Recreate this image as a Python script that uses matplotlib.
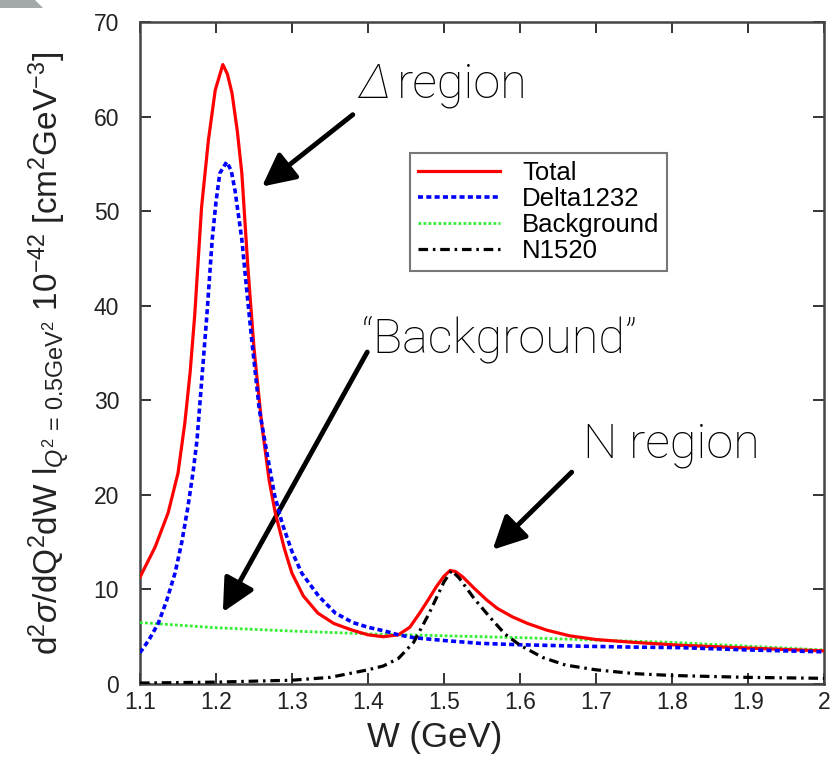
import numpy as np
import matplotlib
matplotlib.use("Agg")
import matplotlib.pyplot as plt
from matplotlib.patches import Polygon

# ---- data ----
W_total = [1.10, 1.12, 1.137, 1.15, 1.159, 1.166, 1.172, 1.181, 1.19, 1.199, 1.209,
           1.215, 1.221, 1.228, 1.234, 1.242, 1.25, 1.26, 1.27, 1.278, 1.29, 1.30,
           1.315, 1.334, 1.355, 1.379, 1.40, 1.42, 1.44, 1.455, 1.468, 1.48, 1.49,
           1.50, 1.508, 1.515, 1.525, 1.54, 1.556, 1.57, 1.59, 1.61, 1.635, 1.665,
           1.70, 1.75, 1.81, 1.90, 2.00]
total = [11.3, 14.5, 18.1, 22.3, 27.6, 33.0, 39.0, 50.4, 57.5, 62.8, 65.5,
         64.5, 62.5, 58.5, 54.0, 44.0, 35.5, 27.6, 21.5, 18.1, 14.3, 11.7,
         9.3, 7.5, 6.4, 5.7, 5.2, 5.0, 5.2, 6.0, 7.5, 9.0, 10.3,
         11.4, 12.0, 11.9, 11.3, 10.1, 8.9, 8.0, 7.1, 6.4, 5.7, 5.1,
         4.7, 4.4, 4.1, 3.8, 3.5]

W_delta = [1.10, 1.112, 1.124, 1.135, 1.146, 1.155, 1.163, 1.17, 1.175, 1.182, 1.188,
           1.195, 1.20, 1.205, 1.214, 1.22, 1.225, 1.234, 1.24, 1.247, 1.257, 1.268,
           1.277, 1.287, 1.30, 1.313, 1.335, 1.357, 1.38, 1.40, 1.422, 1.44, 1.46,
           1.50, 1.547, 1.60, 1.68, 1.75, 1.81, 1.90, 2.00]
delta = [3.3, 4.7, 6.4, 8.8, 11.7, 15.0, 18.7, 22.5, 25.8, 32.9, 39.0,
         47.0, 51.0, 54.0, 55.2, 54.3, 52.2, 47.0, 42.0, 36.4, 29.0, 24.0,
         20.0, 17.0, 14.0, 11.7, 9.3, 7.5, 6.5, 6.0, 5.6, 5.2, 4.9,
         4.6, 4.3, 4.15, 4.0, 3.9, 3.85, 3.6, 3.4]

W_bkg = [1.1, 1.2, 1.3, 1.4, 1.5, 1.6, 1.7, 1.8, 1.9, 2.0]
bkg = [6.5, 5.95, 5.6, 5.3, 5.1, 4.9, 4.65, 4.4, 4.0, 3.6]

W_n1520 = [1.10, 1.20, 1.30, 1.35, 1.40, 1.42, 1.44, 1.46, 1.48, 1.50, 1.51,
           1.52, 1.54, 1.56, 1.58, 1.60, 1.63, 1.66, 1.70, 1.75, 1.80, 1.90, 2.00]
n1520 = [0.1, 0.2, 0.4, 0.7, 1.5, 1.9, 2.7, 4.4, 7.4, 10.8, 12.0,
         11.2, 9.0, 7.1, 5.3, 4.1, 2.8, 2.0, 1.5, 1.1, 0.9, 0.7, 0.6]

xticks = [1.1, 1.2, 1.3, 1.4, 1.5, 1.6, 1.7, 1.8, 1.9, 2.0]
xticklabels = ["1.1", "1.2", "1.3", "1.4", "1.5", "1.6", "1.7", "1.8", "1.9", "2"]
yticks = [0, 10, 20, 30, 40, 50, 60, 70]

plt.rcParams["font.family"] = ["Liberation Sans", "DejaVu Sans"]
plt.rcParams["mathtext.fontset"] = "custom"
plt.rcParams["mathtext.rm"] = "Liberation Sans"
plt.rcParams["mathtext.it"] = "Liberation Sans:italic"

fig = plt.figure(figsize = (8.32, 7.7), dpi = 100)
ax = fig.add_axes([140/832, 1 - 684/770, 684/832, 662/770])

ax.plot(W_total, total, color = "#ff0000", lw = 2.3, label = "Total", zorder = 4)
ax.plot(W_delta, delta, color = "#0000ff", lw = 2.6, dashes = (1.4, 0.9), label = "Delta1232", zorder = 5)
ax.plot(W_bkg, bkg, color = "#33ee33", lw = 2.0, dashes = (1.0, 0.8), label = "Background", zorder = 3)
ax.plot(W_n1520, n1520, color = "black", lw = 2.3, dashes = (3.0, 1.5, 0.8, 1.5), label = "N1520", zorder = 6)

ax.set_xlim(1.1, 2.0)
ax.set_ylim(0, 70)
ax.set_xticks(xticks)
ax.set_xticklabels(xticklabels)
ax.set_yticks(yticks)
ax.tick_params(direction = "in", length = 8, width = 1.4, labelsize = 16.5, top = True, right = True,
               colors = "#333333", labelcolor = "#222222")
ax.tick_params(axis = "x", pad = 5)
ax.tick_params(axis = "y", pad = 15)
for sp in ax.spines.values():
    sp.set_linewidth(1.8)
    sp.set_color("#444444")

ax.set_xlabel("W (GeV)", fontsize = 25, color = "#222222")
ax.xaxis.set_label_coords(0.431, -0.056)
ax.set_ylabel(r"d$^2\sigma$/dQ$^2$dW l$_{Q^2\,=\,0.5\mathrm{GeV}^2}$ 10$^{-42}$ [cm$^2$GeV$^{-3}$]",
              fontsize = 24, color = "#222222")
ax.yaxis.set_label_coords(-0.10, 0.50)

leg = ax.legend(loc = "upper left", bbox_to_anchor = (0.395, 0.802), borderaxespad = 0,
                fontsize = 18.5, frameon = True, fancybox = False, handlelength = 3.2,
                labelspacing = 0.08, handletextpad = 0.85, borderpad = 0.3)
leg.get_frame().set_edgecolor("#555555")
leg.get_frame().set_linewidth(1.5)

# annotations
afont = dict(family = ["Roboto", "DejaVu Sans"], fontweight = "light", fontsize = 35, color = "black")
arrow = dict(arrowstyle = "-|>,head_length=1.0,head_width=0.5", lw = 3.5, color = "black",
             shrinkA = 0, shrinkB = 0, mutation_scale = 20)

ax.text(1.387, 62.0, "\u0394", ha = "left", va = "baseline", fontstyle = "italic", **afont)
ax.text(1.438, 62.0, "region", ha = "left", va = "baseline", **afont)
ax.annotate("", xy = (1.2605, 52.6), xytext = (1.380, 60.2), arrowprops = arrow)

ax.text(1.392, 35.1, "\u201cBackground\u201d", ha = "left", va = "baseline", **afont)
ax.annotate("", xy = (1.209, 7.6), xytext = (1.399, 35.1), arrowprops = arrow)

ax.text(1.683, 23.9, "N region", ha = "left", va = "baseline", **afont)
ax.annotate("", xy = (1.564, 14.2), xytext = (1.668, 22.4), arrowprops = arrow)

# grey corner piece from the slide
fig.patches.append(Polygon([(0, 1), (35/832, 1), (43/832, 1 - 8/770), (0, 1 - 8/770)],
                           closed = True, transform = fig.transFigure, facecolor = "#a3a8ab",
                           edgecolor = "none"))

fig.savefig("out.png", dpi = 100)
